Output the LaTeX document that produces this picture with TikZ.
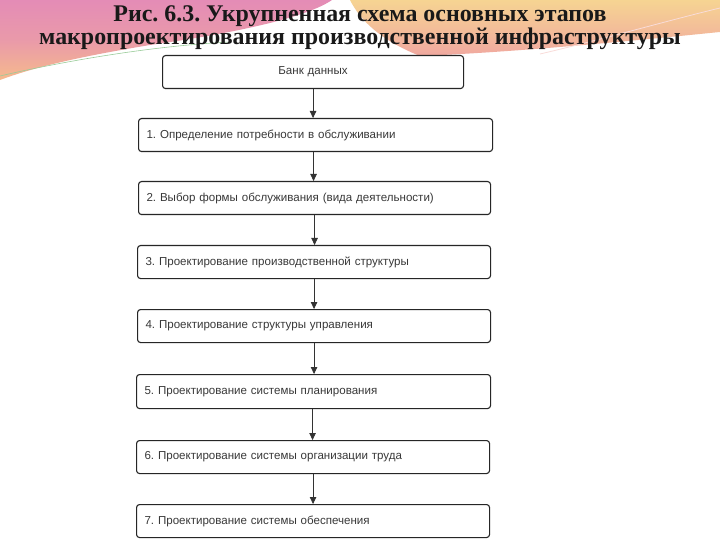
\documentclass[tikz,border=0pt]{standalone}
\usepackage{fontspec}
\setmainfont{Liberation Serif}
\setsansfont{Liberation Sans}
\usetikzlibrary{arrows.meta}
\frenchspacing
\definecolor{bgpink}{RGB}{228,140,182}
\definecolor{bgpeach}{RGB}{246,186,140}
\definecolor{bgyellow}{RGB}{246,212,146}
\definecolor{bgrose}{RGB}{240,168,160}
\tikzset{
  stagebox/.style={draw=black!85, line width=1.1pt, rounded corners=3pt,
    minimum height=33bp, inner xsep=8bp, inner ysep=2bp, anchor=north west,
    align=left, font=\sffamily\fontsize{11.6}{13}\selectfont, text=black!78},
  flowarrow/.style={draw=black!80, line width=0.8pt, -{Triangle[length=7bp,width=6.5bp]}},
  titletext/.style={font=\bfseries\fontsize{24}{20}\selectfont, align=center, text=black!90}
}
\begin{document}
\frenchspacing
\begin{tikzpicture}[x=1bp,y=-1bp]
\useasboundingbox (0,0) rectangle (720,540);
\fill[white] (0,0) rectangle (720,540);
% slide background swooshes
\shade[top color=bgpink, bottom color=bgpeach, middle color=bgpink!70!bgpeach]
  (0,0) -- (332,0) .. controls (300,22) and (200,38) .. (150,45)
  .. controls (90,55) and (40,65) .. (0,80) -- cycle;
\shade[top color=bgyellow, bottom color=bgrose]
  (350,0) -- (720,0) -- (720,32) .. controls (640,40) and (520,52) .. (420,56)
  .. controls (380,40) and (360,20) .. (350,0) -- cycle;
\draw[green!50!black!40, line width=0.6pt] (0,76) .. controls (60,62) and (150,46) .. (230,42);
\draw[white!60!bgrose, line width=0.8pt] (540,54) .. controls (600,40) and (670,20) .. (720,8);
% title
\node[titletext] (title) at (360,27.5) {Рис. 6.3. Укрупненная схема основных этапов\\макропроектирования производственной инфраструктуры};
% boxes
\node[stagebox, minimum width=301bp, align=center, text width=285bp] (bank) at (162,55) {Банк данных};
\node[stagebox, minimum width=354bp, text width=338bp] (s1) at (138,118) {1. Определение потребности в обслуживании};
\node[stagebox, minimum width=352bp, text width=336bp] (s2) at (138,181) {2. Выбор формы обслуживания (вида деятельности)};
\node[stagebox, minimum width=353bp, text width=337bp] (s3) at (137,245) {3. Проектирование производственной структуры};
\node[stagebox, minimum width=353bp, text width=337bp] (s4) at (137,309) {4. Проектирование структуры управления};
\node[stagebox, minimum width=354bp, text width=338bp, minimum height=34bp] (s5) at (136,374) {5. Проектирование системы планирования};
\node[stagebox, minimum width=353bp, text width=337bp] (s6) at (136,440) {6. Проектирование системы организации труда};
\node[stagebox, minimum width=353bp, text width=337bp] (s7) at (136,504) {7. Проектирование системы обеспечения};
% arrows
\draw[flowarrow] (bank.south) -- (bank.south |- s1.north);
\draw[flowarrow] (s1.south) ++(-2,0) coordinate (a1) -- (a1 |- s2.north);
\draw[flowarrow] (s2.south) -- (s2.south |- s3.north);
\draw[flowarrow] (s3.south) -- (s3.south |- s4.north);
\draw[flowarrow] (s4.south) -- (s4.south |- s5.north);
\draw[flowarrow] (s5.south) ++(-1,0) coordinate (a5) -- (a5 |- s6.north);
\draw[flowarrow] (s6.south) -- (s6.south |- s7.north);
\end{tikzpicture}
\end{document}
